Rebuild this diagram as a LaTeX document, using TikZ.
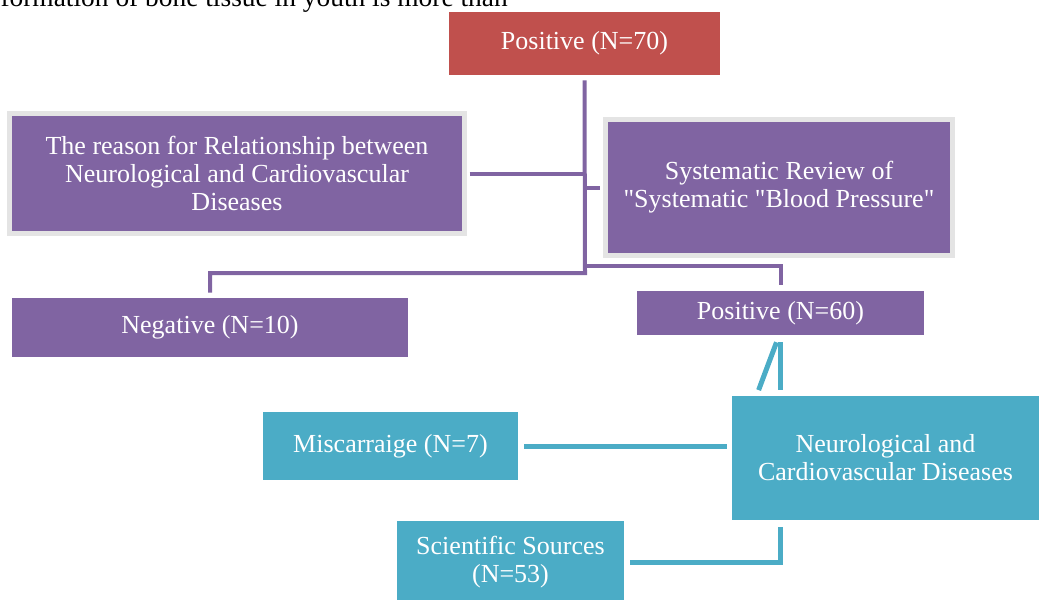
\documentclass[tikz,border=0pt]{standalone}
\usepackage{fontspec}
\setmainfont{Liberation Serif}
\usetikzlibrary{positioning,calc}

\definecolor{redbox}{HTML}{C0504D}
\definecolor{purpbox}{HTML}{8064A2}
\definecolor{tealbox}{HTML}{4BACC6}
\definecolor{framegray}{HTML}{E4E4E4}

\begin{document}
\begin{tikzpicture}[
  x=0.025cm, y=-0.025cm,
  box/.style={rectangle, inner sep=2pt, align=center, text=white,
              font=\fontsize{18.5}{20}\selectfont},
  redcell/.style={box, fill=redbox},
  purpcell/.style={box, fill=purpbox},
  tealcell/.style={box, fill=tealbox},
  framed/.style={draw=framegray, line width=0.125cm},
  purpline/.style={draw=purpbox, line width=0.1cm},
  tealline/.style={draw=tealbox, line width=0.125cm}
]
\useasboundingbox (0,0) rectangle (1039,599);

% ===== cut-off page text =====
\node[anchor=base east, inner sep=0pt, font=\fontsize{19.5}{21}\selectfont]
  (pagetxt) at (508,6.5) {formation of bone tissue in youth is more than};

% ===== upper tree (purple) =====
\node[redcell, minimum width=6.775cm, minimum height=1.575cm]
  (pos70) at (584.5,43.5) {Positive (N=70)};
\node[purpcell, framed, minimum width=11.375cm, minimum height=3.0cm]
  (reason) at (237,173.5)
  {The reason for Relationship between\\Neurological and Cardiovascular\\Diseases};
\node[purpcell, framed, minimum width=8.675cm, minimum height=3.4cm]
  (review) at (779,187.5)
  {Systematic Review of\\\textquotedbl Systematic \textquotedbl Blood Pressure\textquotedbl};
\node[purpcell, minimum width=9.9cm, minimum height=1.475cm]
  (neg10) at (210,327.5) {Negative (N=10)};
\node[purpcell, minimum width=7.175cm, minimum height=1.1cm]
  (pos60) at (780.5,313) {Positive (N=60)};

% ===== lower tree (teal) =====
\node[tealcell, minimum width=7.675cm, minimum height=3.1cm]
  (disease) at (885.5,458) {Neurological and\\Cardiovascular Diseases};
\node[tealcell, minimum width=6.375cm, minimum height=1.7cm]
  (miscar) at (390.5,446) {Miscarraige (N=7)};
\node[tealcell, minimum width=5.675cm, minimum height=2.05cm]
  (sources) at (510.5,562) {Scientific Sources\\(N=53)};

% ===== junctions =====
\coordinate (jLeft) at (585,273);
\coordinate (jRight) at (585,266);
\coordinate (tTop) at ([yshift=-0.175cm]pos60.south);

% ===== purple connectors =====
\draw[purpline] ([yshift=-0.125cm]pos70.south) -- (jLeft)
  -| ([yshift=0.125cm]neg10.north);
\draw[purpline] (jRight) -| ([yshift=0.15cm]pos60.north);
\draw[purpline] ([xshift=0.0625cm]reason.east) -- (reason.east -| jLeft);
\draw[purpline] (review.west -| jLeft) -- ([xshift=-0.0625cm]review.west);

% ===== teal connectors =====
\draw[tealline, shorten >=0.15cm] (tTop) -- (tTop |- disease.north);
\draw[tealline, shorten >=0.15cm] ([xshift=-0.1cm]tTop)
  -- ([xshift=-0.6cm]tTop |- disease.north);
\draw[tealline, shorten <=0.15cm, shorten >=0.125cm]
  (miscar.east) -- (miscar.east -| disease.west);
\draw[tealline, shorten <=0.15cm, shorten >=0.175cm]
  (sources.east) -| (disease.south -| tTop);

\end{tikzpicture}
\end{document}
